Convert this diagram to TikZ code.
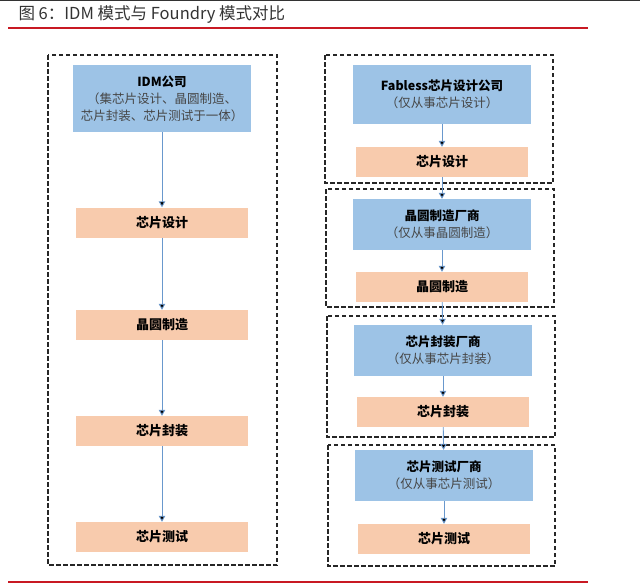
\documentclass[tikz,border=0pt]{standalone}
\usepackage{fontspec}
\setmainfont{Noto Sans CJK SC}
\usetikzlibrary{arrows,arrows.meta}
\definecolor{boxblue}{RGB}{157,195,230}
\definecolor{boxorange}{RGB}{248,203,173}
\definecolor{flowblue}{RGB}{105,152,205}
\definecolor{rulered}{RGB}{200,25,35}
\definecolor{subgray}{RGB}{70,70,70}

\begin{document}
\begin{tikzpicture}[x=1pt, y=-1pt, >={Triangle[length=6pt,width=6.5pt]},
  firm node/.style={fill=boxblue, minimum width=178pt, inner sep=0pt, align=center, font=\fontsize{12.5}{17}\selectfont},
  step node/.style={fill=boxorange, minimum width=172pt, minimum height=30pt, inner sep=0pt, font=\fontsize{13}{15}\selectfont\bfseries},
  group box/.style={draw=black!85, dash pattern=on 4.5pt off 2.5pt, line width=1.3pt},
  flow/.style={draw=flowblue, line width=0.9pt, ->}]

      \useasboundingbox (0,0) rectangle (640,587);
      \draw[black!80, line width=1.5pt] (0,0.7) -- (640,0.7);
      \node[anchor=west, text=black!80, font=\fontsize{16.5}{18}\selectfont] (title) at (15,14) {图 6：IDM 模式与 Foundry 模式对比};
      \draw[rulered, line width=1.4pt] (8,28) -- (588,28);
      \draw[rulered, line width=1.4pt] (8,582) -- (588,582);

      % IDM
      \draw[group box] (48,55) rectangle (277,565);
      \node[firm node, minimum height=67pt] (1) at (162,98.5) {\textbf{IDM公司}\\{\color{subgray}（集芯片设计、晶圆制造、}\\{\color{subgray}芯片封装、芯片测试于一体）}};
      \node[step node] (2) at (162,222.5) {芯片设计};
      \node[step node] (3) at (162,325) {晶圆制造};
      \node[step node] (4) at (162,431) {芯片封装};
      \node[step node] (5) at (162,537) {芯片测试};

      % Foundry
      \draw[group box] (325,55) rectangle (553,183);
      \draw[group box] (326,189) rectangle (554,307);
      \draw[group box] (327,316) rectangle (555,437);
      \draw[group box] (328,445) rectangle (555,566);
      \node[firm node, minimum height=59pt] (6) at (442,94.5) {\textbf{Fabless芯片设计公司}\\{\color{subgray}（仅从事芯片设计）}};
      \node[step node] (7) at (442,162) {芯片设计};
      \node[firm node, minimum height=51pt] (8) at (442,224.5) {\textbf{晶圆制造厂商}\\{\color{subgray}（仅从事晶圆制造）}};
      \node[step node] (9) at (442,287) {晶圆制造};
      \node[firm node, minimum height=51pt] (10) at (443,350.5) {\textbf{芯片封装厂商}\\{\color{subgray}（仅从事芯片封装）}};
      \node[step node] (11) at (443,412) {芯片封装};
      \node[firm node, minimum height=51pt] (12) at (444,475.5) {\textbf{芯片测试厂商}\\{\color{subgray}（仅从事芯片测试）}};
      \node[step node] (13) at (444,539) {芯片测试};

      \path[flow]
        (1) edge (2)
        (2) edge (3)
        (3) edge (4)
        (4) edge (5)
        (6) edge (7)
        (7) edge (8)
        (8) edge (9)
        (9) edge (10)
        (10) edge (11)
        (11) edge (12)
        (12) edge (13);

\end{tikzpicture}
\end{document}
